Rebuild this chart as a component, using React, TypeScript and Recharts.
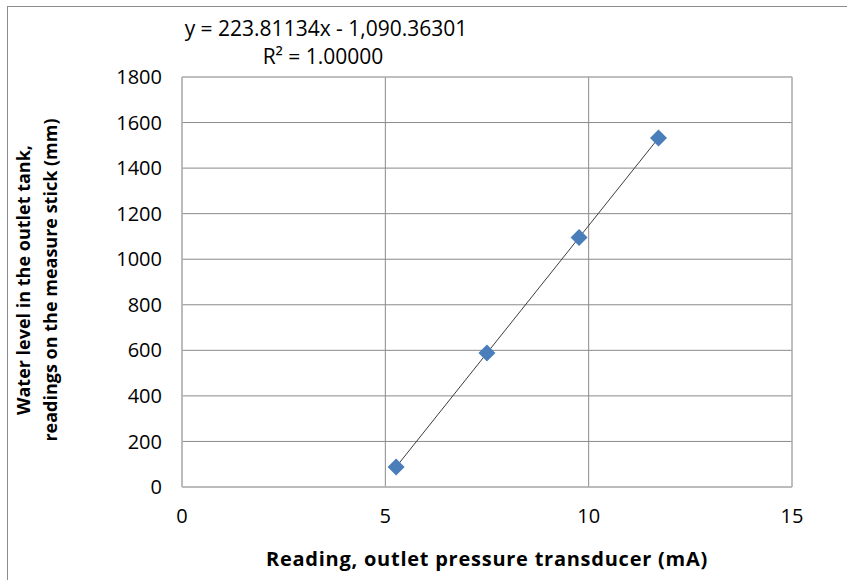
import { CartesianGrid, Label, ReferenceArea, Scatter, ScatterChart, XAxis, YAxis } from 'recharts'

// transducer reading (mA) vs measured water level (mm)
const readings = [5.265, 7.499, 9.764, 11.717]
const levels = [88, 588, 1095, 1532]
const xTicks = [0, 5, 10, 15]
const yTicks = [0, 200, 400, 600, 800, 1000, 1200, 1400, 1600, 1800]

const slope = 223.81134
const intercept = -1090.36301

const points = readings.map((x, i) => ({ x, y: levels[i] }))
const xMin = Math.min(...readings)
const xMax = Math.max(...readings)
const trend = [xMin, xMax].map((x) => ({ x, y: slope * x + intercept }))

const font = '"Open Sans", Lato, sans-serif'

const Diamond = (props: any) => {
	const { cx, cy } = props
	const r = 8.5
	return (
		<polygon
			points={`${cx},${cy - r} ${cx + r},${cy} ${cx},${cy + r} ${cx - r},${cy}`}
			fill='#4a7ebb'
		/>
	)
}

const NoDot = () => <g />

const YTitle = () => (
	<g fontFamily={font} fontWeight='bold' fontSize={18} fill='#000'>
		<text x={23} y={280} textAnchor='middle' dominantBaseline='central' transform='rotate(-90 23 280)'>
			Water level in the outlet tank,
		</text>
		<text x={50} y={280} textAnchor='middle' dominantBaseline='central' transform='rotate(-90 50 280)'>
			readings on the measure stick (mm)
		</text>
	</g>
)

const App = () => {
	return (
		<div style={{ position: 'absolute', left: 0, top: 0, width: 847, height: 580, background: '#fff' }}>
			<div
				style={{
					position: 'absolute',
					left: 7,
					top: 6,
					right: 0,
					bottom: 0,
					borderTop: '1px solid #8c8c8c',
					borderLeft: '1px solid #8c8c8c',
				}}
			/>
			<div style={{ position: 'absolute', left: 0, top: 0 }}>
				<ScatterChart width={847} height={580} margin={{ top: 77, right: 55, bottom: 0, left: 0 }}>
					<CartesianGrid stroke='#8a8a8a' strokeWidth={1} />
					<ReferenceArea x1={0} x2={15} y1={0} y2={1800} fill='none' stroke='#b8b8b8' ifOverflow='visible' />
					<XAxis
						type='number'
						dataKey='x'
						domain={[0, 15]}
						ticks={xTicks}
						height={93}
						tickSize={0}
						tickMargin={22}
						axisLine={{ stroke: '#b8b8b8' }}
						tickLine={false}
						tick={{ fill: '#000', fontSize: 20, fontFamily: font }}
					>
						<Label
							value='Reading, outlet pressure transducer (mA)'
							position='insideBottom'
							offset={14}
							style={{ fontFamily: font, fontWeight: 'bold', fontSize: 20, letterSpacing: 0.75, fill: '#000' }}
						/>
					</XAxis>
					<YAxis
						type='number'
						dataKey='y'
						domain={[0, 1800]}
						ticks={yTicks}
						width={182}
						tickSize={0}
						tickMargin={20}
						axisLine={{ stroke: '#b8b8b8' }}
						tickLine={false}
						tick={{ fill: '#000', fontSize: 20, fontFamily: font }}
						label={{ content: () => <YTitle /> }}
					/>
					<Scatter
						data={trend}
						line={{ stroke: '#3c3c3c', strokeWidth: 1 }}
						shape={NoDot}
						isAnimationActive={false}
					/>
					<Scatter data={points} shape={Diamond} isAnimationActive={false} />
					<text x={326} y={28} textAnchor='middle' dominantBaseline='central' fontFamily={font} fontSize={21} fill='#000'>
						y = 223.81134x - 1,090.36301
					</text>
					<text x={323} y={56} textAnchor='middle' dominantBaseline='central' fontFamily={font} fontSize={21} fill='#000'>
						R² = 1.00000
					</text>
				</ScatterChart>
			</div>
		</div>
	)
}

export default App
